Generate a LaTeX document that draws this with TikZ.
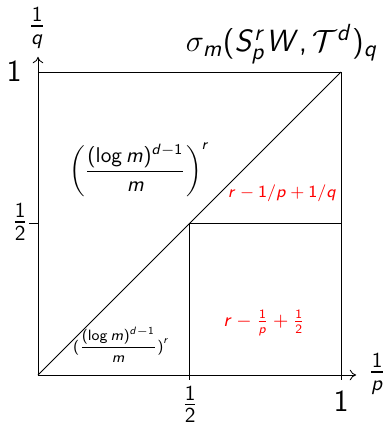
\documentclass[tikz,border=0pt]{standalone}
\usepackage{amsmath}
\usetikzlibrary{arrows.meta}

% sans serif math, as on slides
\SetSymbolFont{operators}{normal}{OT1}{cmss}{m}{n}
\SetSymbolFont{letters}{normal}{OT1}{cmss}{m}{sl}
\DeclareSymbolFont{greekletters}{OML}{cmm}{m}{it}
\DeclareMathSymbol{\sigma}{\mathord}{greekletters}{"1B}
\DeclareMathSymbol{,}{\mathpunct}{operators}{"2C}
\DeclareMathSymbol{/}{\mathord}{operators}{"2F}

\begin{document}
\begin{tikzpicture}[
    x=5cm, y=5cm,
    every node/.style={font=\sffamily},
    axis/.style={thin, -{To[length=3pt,width=5pt]}},
    border/.style={thin},
    redlabel/.style={text=red, font=\sffamily\small}
]
\useasboundingbox (-0.1254,-0.1617) rectangle (1.1518,1.2376);

% =========================================================
% Corners
% =========================================================

\coordinate (O) at (0,0);
\coordinate (X1) at (1,0);
\coordinate (Y1) at (0,1);
\coordinate (C) at (1,1);
\coordinate (H) at (0.5,0.5);
\coordinate (Xh) at (0.5,0);
\coordinate (Yh) at (0,0.5);
\coordinate (R) at (1,0.5);
\coordinate (Xend) at (1.05,0);
\coordinate (Yend) at (0,1.05);


% =========================================================
% Axes
% =========================================================

\draw[axis] (O) -- (Xend);
\draw[axis] (O) -- (Yend);

\draw (Xh) -- ++(0,-0.015);
\draw (X1) -- ++(0,-0.015);
\draw (Yh) -- ++(-0.03,0);


% =========================================================
% Square and regions
% =========================================================

\draw[border] (Y1) -- (C) -- (X1);
\draw[border] (O) -- (C);
\draw[border] (H) -- (R);
\draw[border] (H) -- (Xh);


% =========================================================
% Axis labels
% =========================================================

\node (qlab) at (-0.003,1.145) {\Large$\frac{1}{q}$};
\node (plab) at (1.119,0.003) {\Large$\frac{1}{p}$};
\node (yone) at (-0.079,1.003) {\Large$1$};
\node (yhalf) at (-0.059,0.505) {\Large$\frac{1}{2}$};
\node (xhalf) at (0.502,-0.097) {\Large$\frac{1}{2}$};
\node (xone) at (1.0,-0.086) {\Large$1$};

\node (title) at (0.805,1.092) {\fontsize{15.5}{18}\selectfont$\sigma_m(S^r_pW,\mathcal{T}^d)_q$};


% =========================================================
% Region labels
% =========================================================

\node (upper) at (0.335,0.677) {$\displaystyle\left(\frac{(\log m)^{d-1}}{m}\right)^r$};
\node[font=\sffamily\scriptsize] (lower) at (0.275,0.1) {$\displaystyle(\frac{(\log m)^{d-1}}{m})^r$};

\node[redlabel, font=\sffamily\footnotesize] (upred) at (0.806,0.601) {$r-1/p+1/q$};
\node[redlabel] (lowred) at (0.746,0.172) {$r-\frac{1}{p}+\frac{1}{2}$};

\end{tikzpicture}
\end{document}
